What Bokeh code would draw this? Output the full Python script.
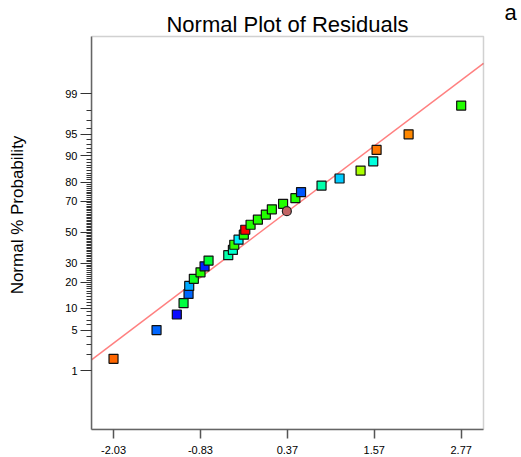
from statistics import NormalDist
from bokeh.plotting import figure
from bokeh.models import (FixedTicker, Range1d, Label, ColumnDataSource, PrintfTickFormatter,
                          BoxAnnotation)
from bokeh.embed import file_html
from bokeh.resources import INLINE

nd = NormalDist()

# Residuals sorted ascending
residuals = [-2.03, -1.436, -1.156, -1.063, -0.994, -0.985, -0.921, -0.829, -0.773, -0.718,
             -0.446, -0.382, -0.363, -0.304, -0.231, -0.211, -0.138, -0.037, 0.073, 0.156,
             0.311, 0.481, 0.559, 0.842, 1.091, 1.381, 1.556, 1.602, 2.044, 2.77]
point_colors = ["#ff6600", "#0066ff", "#0a0aff", "#00ff40", "#0066ff", "#00aaff", "#11ff22", "#22ff00",
                "#0022ff", "#00ff33", "#00ffaa", "#00ffcc", "#33ff00", "#00eeff", "#22ff00", "#ff0000",
                "#22ff00", "#22ff00", "#22ff00", "#22ff00", "#22ff00", "#22ff00", "#0055ff", "#00ffaa",
                "#00ccff", "#aaff00", "#00ffdd", "#ff7700", "#ff8800", "#22ff00"]

highlight_x = [0.363]
highlight_pct = [63.8]
highlight_color = "#c26464"

fit_mean = -0.0054
fit_sd = 1.0858

x_ticks = [-2.03, -0.83, 0.37, 1.57, 2.77]
y_tick_pct = [1, 5, 10, 20, 30, 50, 70, 80, 90, 95, 99]
y_minor_pct = list(range(1, 100))

title_text = "Normal Plot of Residuals"
panel_tag = "a"
y_label = "Normal % Probability"

n = len(residuals)
probs = [(i + 0.5) / n for i in range(n)]
z = [nd.inv_cdf(p) for p in probs]

# plot box (axes area) and the extended frame that also holds the title and tag
X0, XB = -2.334, 3.078          # box left / right
Y0, YB = -3.316, 3.29           # box bottom / top (probit units)
XF = XB + 38 / 72.42            # frame right edge (canvas edge)
YF = YB + 36 / 59.5             # frame top edge (canvas edge)

p = figure(width=521, height=457, output_backend="svg", toolbar_location=None,
           x_range=Range1d(X0, XF), y_range=Range1d(Y0, YF),
           min_border_left=91, min_border_right=0, min_border_top=0, min_border_bottom=28)

p.grid.visible = False
p.outline_line_color = None
p.background_fill_color = "white"
p.border_fill_color = "white"

box = BoxAnnotation(left=X0, right=XB, bottom=Y0, top=YB, fill_color=None,
                    line_color="#666666", line_width=1.5)
p.add_layout(box)

# fitted line
lx = [X0, XB]
lz = [(v - fit_mean) / fit_sd for v in lx]
p.line(lx, lz, line_color="#ff8080", line_width=1.5)

src = ColumnDataSource(dict(x=residuals, y=z, c=point_colors))
p.scatter("x", "y", source=src, marker="square", size=9, fill_color="c",
          line_color="#111111", line_width=1.2)

p.scatter(highlight_x, [nd.inv_cdf(v / 100) for v in highlight_pct], marker="circle", size=9,
          fill_color=highlight_color, line_color="#222222", line_width=1.2)

# axes
xa = p.xaxis[0]
xa.bounds = (X0, XB)
xa.ticker = FixedTicker(ticks=x_ticks, minor_ticks=[])
xa.formatter = PrintfTickFormatter(format="%.2f")
xa.major_tick_out = 9
xa.major_tick_in = 0
xa.minor_tick_out = 0
xa.axis_line_color = "#666666"
xa.axis_line_width = 1.5
xa.major_tick_line_color = "#555555"
xa.major_tick_line_width = 1.5
xa.major_label_text_font = "Liberation Sans"
xa.major_label_text_font_size = "11px"
xa.major_label_text_color = "black"
xa.major_label_standoff = 7

ya = p.yaxis[0]
ya.bounds = (Y0, YB)
y_major_z = [nd.inv_cdf(v / 100) for v in y_tick_pct]
y_minor_z = [nd.inv_cdf(v / 100) for v in y_minor_pct]
ya.ticker = FixedTicker(ticks=y_major_z, minor_ticks=y_minor_z)
ya.major_label_overrides = {zz: str(v) for zz, v in zip(y_major_z, y_tick_pct)}
ya.major_tick_out = 11
ya.major_tick_in = 0
ya.minor_tick_out = 5
ya.minor_tick_in = 0
ya.axis_line_color = "#666666"
ya.axis_line_width = 1.5
ya.major_tick_line_color = "#333333"
ya.minor_tick_line_color = "#333333"
ya.major_label_text_font = "Liberation Sans"
ya.major_label_text_font_size = "11px"
ya.major_label_text_color = "black"
ya.major_label_standoff = 3
ya.axis_label = y_label
ya.axis_label_text_font = "Liberation Sans"
ya.axis_label_text_font_size = "17px"
ya.axis_label_text_font_style = "normal"
ya.axis_label_text_color = "black"
ya.axis_label_standoff = 35

# title and panel tag (screen units are relative to the frame's bottom-left)
title = Label(x=196, y=405, x_units="screen", y_units="screen", text=title_text,
              text_font="Liberation Sans", text_font_size="22px", text_color="black",
              text_align="center", text_baseline="alphabetic")
p.add_layout(title)
tag = Label(x=419, y=417, x_units="screen", y_units="screen", text=panel_tag,
            text_font="Liberation Sans", text_font_size="22px", text_color="black",
            text_align="center", text_baseline="alphabetic")
p.add_layout(tag)

open("out.html", "w").write(file_html(p, INLINE))
